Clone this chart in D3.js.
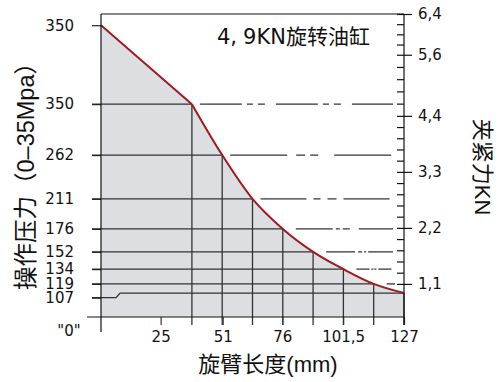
<!DOCTYPE html>
<html>
<head>
<meta charset="utf-8">
<script src="https://cdn.jsdelivr.net/npm/d3@7"></script>
<style>
  body { margin: 0; background: #fff; }
  text { font-family: "DejaVu Sans", Verdana, sans-serif; fill: #111; }
  .cjk { font-family: "Liberation Sans", "Noto Sans CJK SC", sans-serif; }
</style>
</head>
<body>
<div id="chart"></div>
<script>
// arm length (mm) at each curve point, clamp force (kN) and operating pressure (bar)
const armLength = [0, 38.1, 50.8, 63.5, 76.2, 88.9, 101.6, 114.3, 127];
const clampForce = [6.18, 4.63, 3.63, 2.77, 2.18, 1.73, 1.39, 1.10, 0.92];
const pressureLabels = ["350", "350", "262", "211", "176", "152", "134", "119", "107"];
// left labels sit on the curve level, except the last one which is a bit lower
const pressureTickForce = [6.18, 4.63, 3.63, 2.77, 2.18, 1.73, 1.39, 1.10, 0.83];

const xTicks = [25, 51, 76, 101.5, 127];
const xTickLabels = ["25", "51", "76", "101,5", "127"];
const forceTicks = [6.4, 5.6, 4.4, 3.3, 2.2, 1.1];
const forceTickLabels = ["6,4", "5,6", "4,4", "3,3", "2,2", "1,1"];
const forceMinorTicks = [6.2, 6.0, 5.8, 5.36, 5.12, 4.88, 4.64, 4.18, 3.96, 3.74, 3.52,
                         3.08, 2.86, 2.64, 2.42, 1.98, 1.76, 1.54, 1.32];

const width = 502, height = 382;
const pLeft = 101, pRight = 404, pTop = 14, pBottom = 317;

// dash styles of the lines right of the curve (one per point)
const rightDash = [null, "42,5,6,5,7,11", "57,9,9,5,8,16", "46,7,7,7,9,7",
                   "37,3,4,3,7,9", "29,3,4,2,2,2", "13,2,2,1,2,2", null, null];

const svg = d3.select("#chart")
    .append("svg")
    .attr("width", width)
    .attr("height", height);

const x = d3.scaleLinear().domain([0, 127]).range([pLeft, pRight]);
const y = d3.scaleLinear().domain([0.45, 6.4]).range([pBottom, pTop]);

const pts = armLength.map((d, i) => ({ len: d, force: clampForce[i] }));

// grey area under the curve: straight first part, smooth after the kink
const area = d3.area().x(d => x(d.len)).y0(y(0.45)).y1(d => y(d.force));
const line = d3.line().x(d => x(d.len)).y(d => y(d.force));

svg.append("path")
    .attr("d", area.curve(d3.curveLinear)(pts.slice(0, 2)))
    .attr("fill", "#dddee1");
svg.append("path")
    .attr("d", area.curve(d3.curveMonotoneX)(pts.slice(1)))
    .attr("fill", "#dddee1");

const grid = svg.append("g")
    .attr("stroke", "#333")
    .attr("stroke-width", 1.3)
    .attr("fill", "none");

// horizontal lines inside the area
pts.forEach((p, i) => {
    if (i === 0 || i === pts.length - 1) return;
    grid.append("line")
        .attr("x1", pLeft - 9).attr("x2", x(p.len))
        .attr("y1", y(p.force)).attr("y2", y(p.force));
});

// the 107 line jogs up to the end level of the curve
const last = pts[pts.length - 1];
grid.append("path")
    .attr("d", d3.line()([
        [pLeft - 9, y(pressureTickForce[8])],
        [x(6.3), y(pressureTickForce[8])],
        [x(8), y(last.force)],
        [x(last.len), y(last.force)]
    ]));

// vertical lines from the curve down past the axis
pts.forEach((p, i) => {
    if (i === 0) return;
    grid.append("line")
        .attr("x1", x(p.len)).attr("x2", x(p.len))
        .attr("y1", y(p.force)).attr("y2", pBottom + 8);
});

// dashed continuation to the right axis
pts.forEach((p, i) => {
    if (i === 0 || i === pts.length - 1) return;
    const start = x(p.len) + (i < 4 ? 8 : 13);
    grid.append("line")
        .attr("x1", start).attr("x2", i === 7 ? 395 : 393)
        .attr("y1", y(p.force)).attr("y2", y(p.force))
        .attr("stroke-dasharray", rightDash[i]);
});

// curve
svg.append("path")
    .attr("d", line.curve(d3.curveLinear)(pts.slice(0, 2)))
    .attr("fill", "none").attr("stroke", "#9e1a1f").attr("stroke-width", 2);
svg.append("path")
    .attr("d", line.curve(d3.curveMonotoneX)(pts.slice(1)))
    .attr("fill", "none").attr("stroke", "#9e1a1f").attr("stroke-width", 2);

// frame
const frame = svg.append("g").attr("stroke", "#111").attr("stroke-width", 1.2);
frame.append("line").attr("x1", pLeft).attr("x2", pRight).attr("y1", pTop).attr("y2", pTop);
frame.append("line").attr("x1", pLeft).attr("x2", pLeft).attr("y1", pTop).attr("y2", pBottom + 15);
frame.append("line").attr("x1", pLeft - 14).attr("x2", pRight).attr("y1", pBottom).attr("y2", pBottom);

// left axis (pressure)
const leftAxis = svg.append("g")
    .attr("transform", `translate(${pLeft},0)`)
    .call(d3.axisLeft(y)
        .tickValues(pressureTickForce)
        .tickFormat((d, i) => pressureLabels[i])
        .tickSize(9)
        .tickPadding(18));
leftAxis.select(".domain").remove();
leftAxis.selectAll("line").attr("stroke", "#222").attr("stroke-width", 1.2);
leftAxis.selectAll("text")
    .style("font-family", "'DejaVu Sans', Verdana, sans-serif")
    .style("font-size", "15px").attr("fill", "#111");

// bottom axis
const bottomAxis = svg.append("g")
    .attr("transform", `translate(0,${pBottom})`)
    .call(d3.axisBottom(x)
        .tickValues(xTicks)
        .tickFormat((d, i) => xTickLabels[i])
        .tickSize(8)
        .tickPadding(6));
bottomAxis.select(".domain").remove();
bottomAxis.selectAll("line").attr("stroke", "#333").attr("stroke-width", 1.2);
bottomAxis.selectAll("text")
    .style("font-family", "'DejaVu Sans', Verdana, sans-serif")
    .style("font-size", "15px").attr("fill", "#111");

svg.append("text")
    .attr("x", 69).attr("y", 336)
    .attr("text-anchor", "middle")
    .style("font-size", "15px")
    .text('"0"');

// right axis (clamping force)
const rightAxis = svg.append("g")
    .attr("transform", `translate(${pRight},0)`)
    .call(d3.axisRight(y)
        .tickValues(forceTicks)
        .tickFormat((d, i) => forceTickLabels[i])
        .tickSize(8)
        .tickPadding(6));
rightAxis.select(".domain").remove();
rightAxis.selectAll("line").attr("x1", -7).attr("stroke", "#111").attr("stroke-width", 1.2);
rightAxis.selectAll("text")
    .style("font-family", "'DejaVu Sans', Verdana, sans-serif")
    .style("font-size", "15px").attr("fill", "#111");

const minorAxis = svg.append("g")
    .attr("transform", `translate(${pRight},0)`)
    .call(d3.axisRight(y)
        .tickValues(forceMinorTicks)
        .tickFormat("")
        .tickSize(-7));
minorAxis.select(".domain").remove();
minorAxis.selectAll("line").attr("stroke", "#111").attr("stroke-width", 1.2);

frame.append("line").attr("x1", pRight).attr("x2", pRight).attr("y1", pTop).attr("y2", pBottom + 8);
frame.raise();

// titles
const title = svg.append("text")
    .attr("x", 217).attr("y", 44)
    .style("font-family", "'DejaVu Sans', 'Noto Sans CJK SC', sans-serif")
    .style("font-size", "21px");
title.append("tspan").text("4,");
title.append("tspan").attr("dx", 6).text("9KN旋转油缸");

svg.append("text")
    .attr("class", "cjk")
    .attr("transform", `translate(34, 290)rotate(-90)`)
    .attr("text-anchor", "start")
    .style("font-size", "23.5px")
    .text("操作压力（0–35Mpa）");

svg.append("text")
    .attr("class", "cjk")
    .attr("transform", `translate(475, 167)rotate(90)`)
    .attr("text-anchor", "middle")
    .style("font-size", "22px")
    .text("夹紧力KN");

svg.append("text")
    .attr("class", "cjk")
    .attr("x", 268).attr("y", 372)
    .attr("text-anchor", "middle")
    .style("font-size", "22px")
    .text("旋臂长度(mm)");
</script>
</body>
</html>
